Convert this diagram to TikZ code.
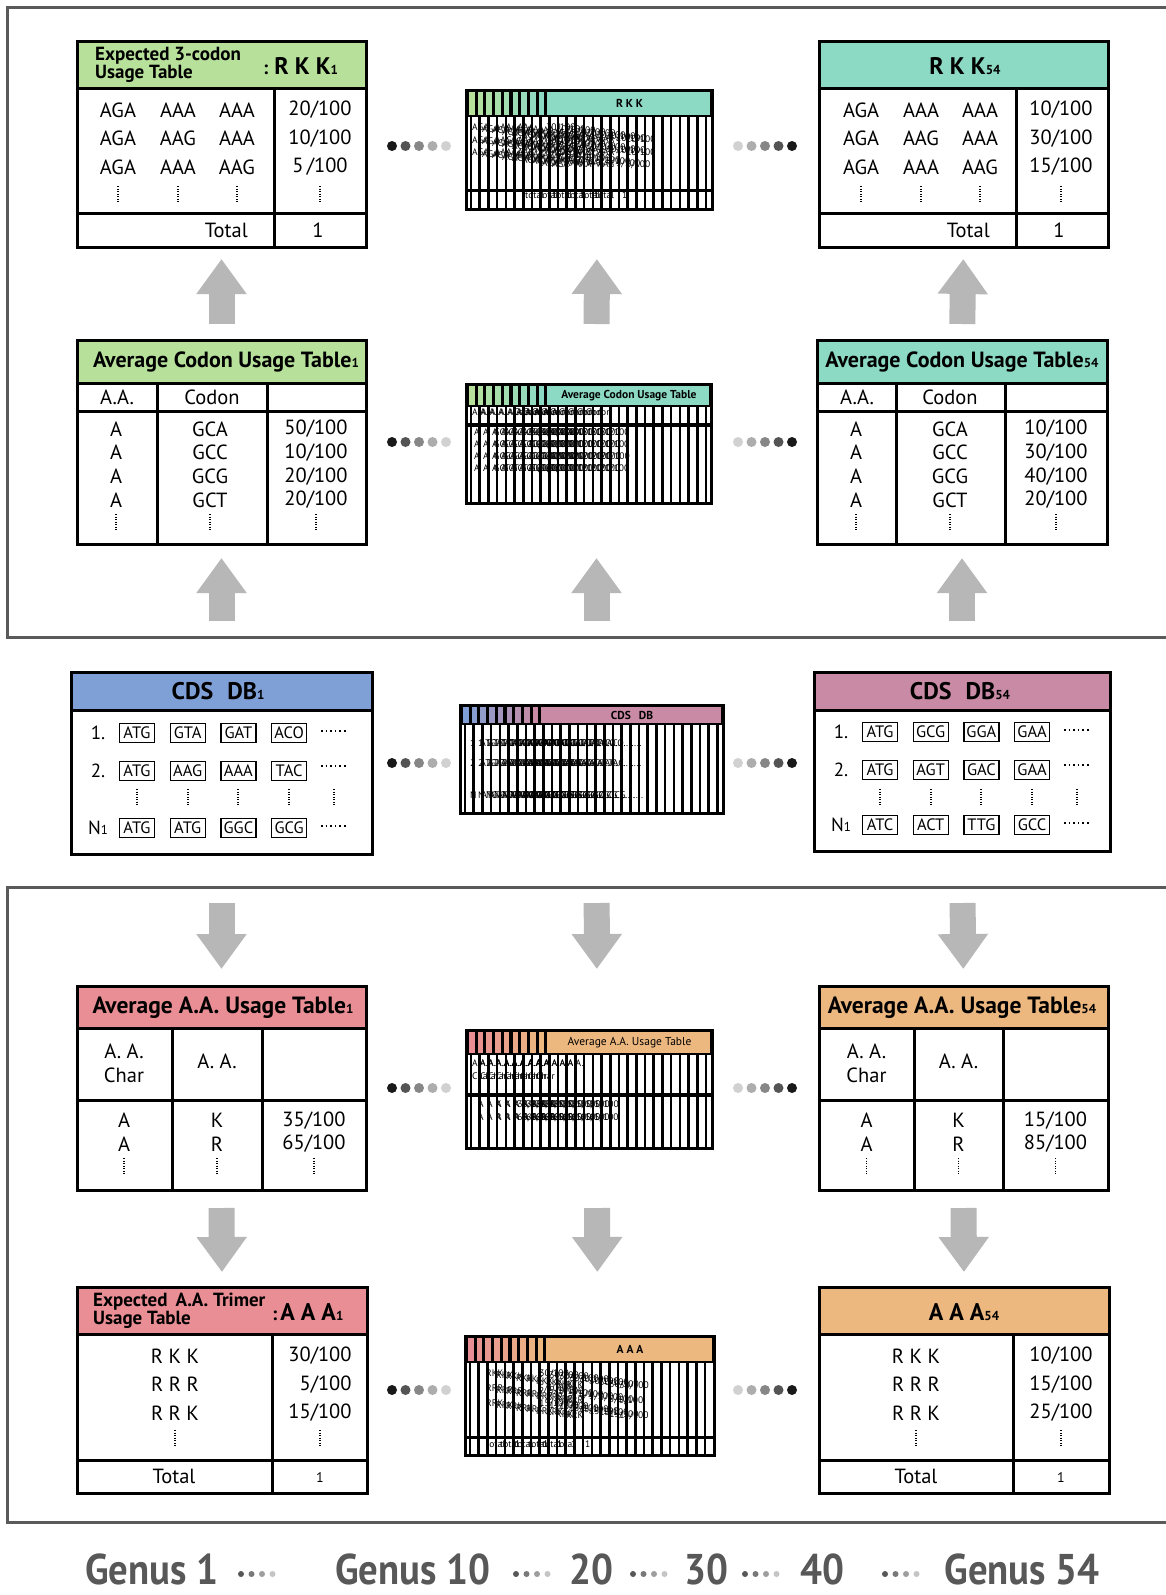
\documentclass[tikz,border=0pt]{standalone}
\usepackage{fontspec}
\setmainfont{PT Sans}
\newfontfamily\genusfont[FakeStretch=0.9]{PT Sans}
\usetikzlibrary{arrows.meta,calc}

\definecolor{cgreen}{RGB}{183,225,155}
\definecolor{cteal}{RGB}{140,217,196}
\definecolor{cblue}{RGB}{127,160,214}
\definecolor{cmauve}{RGB}{200,138,164}
\definecolor{cred}{RGB}{232,142,148}
\definecolor{corange}{RGB}{236,184,128}
\definecolor{arrowgray}{RGB}{183,183,183}
\definecolor{framegray}{RGB}{90,90,90}
\definecolor{genusgray}{RGB}{88,88,88}

\newcommand{\gsub}[1]{{\fontsize{13}{13}\selectfont #1}}

\begin{document}
\begin{tikzpicture}
        [x=1pt, y=-1pt,
        tab/.style={draw, line width=3pt, fill=white, anchor=north west, inner sep=0, outer sep=0},
        headbar/.style={draw, line width=3pt, anchor=north west, inner sep=0, outer sep=0},
        rule/.style={line width=3pt},
        frame/.style={draw=framegray, line width=3pt},
        cell/.style={inner sep=0, align=center, font=\fontsize{20.5}{28.5}\selectfont},
        cellb/.style={inner sep=0, align=center, font=\fontsize{20.5}{23.7}\selectfont},
        htxt/.style={inner sep=0, align=left, font=\bfseries\fontsize{19}{16.5}\selectfont},
        hbig/.style={inner sep=0, font=\bfseries\fontsize{19}{19}\selectfont},
        hmid/.style={inner sep=0, font=\bfseries\fontsize{22}{22}\selectfont},
        hmidb/.style={inner sep=0, font=\bfseries\fontsize{23.5}{23.5}\selectfont},
        hcds/.style={inner sep=0, font=\bfseries\fontsize{24}{24}\selectfont},
        lbl/.style={inner sep=0, font=\fontsize{19}{19}\selectfont},
        codon/.style={draw, line width=1.3pt, inner sep=0, minimum width=35pt, minimum height=19pt, font=\fontsize{16.5}{16.5}\selectfont},
        vdots/.style={line width=1.3pt, dash pattern=on 1.2pt off 1.3pt},
        hdots/.style={line width=1.6pt, dash pattern=on 1.6pt off 3pt},
        gtxt/.style={inner sep=0, anchor=north west, align=left, font=\fontsize{9.5}{12.5}\selectfont},
        ttxt/.style={inner sep=0, font=\fontsize{11.5}{11.5}\selectfont},
        bar/.style={line width=2.6pt},
        blockarrow/.style={line width=26pt, color=arrowgray, -{Triangle[width=48pt,length=35pt]}},
        genus/.style={anchor=base, inner sep=0, text=genusgray, font=\genusfont\bfseries\fontsize{43}{43}\selectfont}]

        \useasboundingbox (0,0) rectangle (1166,1595);
        \fill[white] (0,0) rectangle (1166,1595);

        % frames
        \draw[frame] (1172,8) -- (7,8) -- (7,637) -- (1172,637);
        \draw[frame] (1172,887) -- (7,887) -- (7,1522) -- (1172,1522);

        % expected 3-codon usage tables
        \node[tab, minimum width=289pt, minimum height=205pt] (expL) at (77,42) {};
        \node[headbar, fill=cgreen, minimum width=289pt, minimum height=46pt] (expLh) at (77,42) {};
        \node[htxt, anchor=west] (expLt) at (95,65) {Expected 3-codon\\Usage Table};
        \node[hbig, anchor=west] (expLk) at (263,66) {:\hspace{6pt}{\fontsize{24}{24}\selectfont R K K}\gsub{1}};
        \draw[rule] (274,88) -- (274,247);
        \draw[rule] (77,213) -- (366,213);
        \node[cell] (expLc1) at (118,138.5) {AGA\\AGA\\AGA};
        \node[cell] (expLc2) at (178,138.5) {AAA\\AAG\\AAA};
        \node[cell] (expLc3) at (237,138.5) {AAA\\AAA\\AAG};
        \node[cell] (expLc4) at (320,138.5) {20/100\\10/100\\5\,/100};
        \foreach \x in {118,178,237,320} \draw[vdots] (\x,186) -- (\x,203);
        \node[cell, anchor=east] (expLtot) at (248,230) {Total};
        \node[cell] (expLone) at (318,230) {1};

        \node[tab, minimum width=289pt, minimum height=205pt] (expR) at (819,42) {};
        \node[headbar, fill=cteal, minimum width=289pt, minimum height=46pt] (expRh) at (819,42) {};
        \node[hbig] (expRk) at (965,66) {{\fontsize{24}{24}\selectfont R K K}\gsub{54}};
        \draw[rule] (1016,88) -- (1016,247);
        \draw[rule] (819,213) -- (1108,213);
        \node[cell] (expRc1) at (861,138.5) {AGA\\AGA\\AGA};
        \node[cell] (expRc2) at (921,138.5) {AAA\\AAG\\AAA};
        \node[cell] (expRc3) at (980,138.5) {AAA\\AAA\\AAG};
        \node[cell] (expRc4) at (1061,138.5) {10/100\\30/100\\15/100};
        \foreach \x in {861,921,980,1061} \draw[vdots] (\x,186) -- (\x,203);
        \node[cell, anchor=east] (expRtot) at (990,230) {Total};
        \node[cell] (expRone) at (1059,230) {1};

        % average codon usage tables
        \node[tab, minimum width=289pt, minimum height=204pt] (avgL) at (77,340) {};
        \node[headbar, fill=cgreen, minimum width=289pt, minimum height=43pt] (avgLh) at (77,340) {};
        \node[hmid] (avgLt) at (226,362) {Average Codon Usage Table\gsub{1}};
        \draw[rule] (77,411) -- (366,411);
        \draw[rule] (157,383) -- (157,544);
        \draw[rule] (267,383) -- (267,544);
        \node[cell] (avgLs1) at (117,397) {A.A.};
        \node[cell] (avgLs2) at (212,397) {Codon};
        \node[cellb] (avgLc1) at (116,464.5) {A\\A\\A\\A};
        \node[cellb] (avgLc2) at (210,464.5) {GCA\\GCC\\GCG\\GCT};
        \node[cellb] (avgLc3) at (316,464.5) {50/100\\10/100\\20/100\\20/100};
        \foreach \x in {116,210,316} \draw[vdots] (\x,514) -- (\x,530);

        \node[tab, minimum width=290pt, minimum height=204pt] (avgR) at (817,340) {};
        \node[headbar, fill=cteal, minimum width=290pt, minimum height=43pt] (avgRh) at (817,340) {};
        \node[hmid] (avgRt) at (962,362) {Average Codon Usage Table\gsub{54}};
        \draw[rule] (817,411) -- (1107,411);
        \draw[rule] (896,383) -- (896,544);
        \draw[rule] (1005,383) -- (1005,544);
        \node[cell] (avgRs1) at (857,397) {A.A.};
        \node[cell] (avgRs2) at (950,397) {Codon};
        \node[cellb] (avgRc1) at (856,464.5) {A\\A\\A\\A};
        \node[cellb] (avgRc2) at (950,464.5) {GCA\\GCC\\GCG\\GCT};
        \node[cellb] (avgRc3) at (1056,464.5) {10/100\\30/100\\40/100\\20/100};
        \foreach \x in {856,950,1056} \draw[vdots] (\x,514) -- (\x,530);

        % CDS databases
        \node[tab, minimum width=301pt, minimum height=182pt] (cdsL) at (71,672) {};
        \node[headbar, fill=cblue, minimum width=301pt, minimum height=38pt] (cdsLh) at (71,672) {};
        \node[hcds] (cdsLt) at (218,691) {CDS\hspace{14pt}DB\gsub{1}};
        \node[lbl] (cdsLn1) at (98,733) {1.};
        \node[lbl] (cdsLn2) at (98,771) {2.};
        \node[lbl] (cdsLn3) at (98,828) {N\gsub{1}};
        \foreach \t [count=\i] in {ATG,GTA,GAT,ACO}
          \node[codon] (cdsLa\i) at ({137+50.7*(\i-1)},733) {\t};
        \foreach \t [count=\i] in {ATG,AAG,AAA,TAC}
          \node[codon] (cdsLb\i) at ({137+50.7*(\i-1)},771) {\t};
        \foreach \t [count=\i] in {ATG,ATG,GGC,GCG}
          \node[codon] (cdsLc\i) at ({137+50.7*(\i-1)},828) {\t};
        \draw[hdots] (321,731) -- (347,731);
        \draw[hdots] (321,766) -- (347,766);
        \draw[hdots] (321,826) -- (347,826);
        \foreach \x in {137,188,238,289,334} \draw[vdots] (\x,789) -- (\x,806);

        \node[tab, minimum width=296pt, minimum height=179pt] (cdsR) at (814,672) {};
        \node[headbar, fill=cmauve, minimum width=296pt, minimum height=38pt] (cdsRh) at (814,672) {};
        \node[hcds] (cdsRt) at (960,691) {CDS\hspace{14pt}DB\gsub{54}};
        \node[lbl] (cdsRn1) at (841,732) {1.};
        \node[lbl] (cdsRn2) at (841,770) {2.};
        \node[lbl] (cdsRn3) at (841,825) {N\gsub{1}};
        \foreach \t [count=\i] in {ATG,GCG,GGA,GAA}
          \node[codon] (cdsRa\i) at ({880+50.7*(\i-1)},732) {\t};
        \foreach \t [count=\i] in {ATG,AGT,GAC,GAA}
          \node[codon] (cdsRb\i) at ({880+50.7*(\i-1)},770) {\t};
        \foreach \t [count=\i] in {ATC,ACT,TTG,GCC}
          \node[codon] (cdsRc\i) at ({880+50.7*(\i-1)},825) {\t};
        \draw[hdots] (1064,730) -- (1090,730);
        \draw[hdots] (1064,765) -- (1090,765);
        \draw[hdots] (1064,823) -- (1090,823);
        \foreach \x in {880,931,981,1032,1077} \draw[vdots] (\x,789) -- (\x,806);

        % average A.A. usage tables
        \node[tab, minimum width=289pt, minimum height=204pt] (aaL) at (77,986) {};
        \node[headbar, fill=cred, minimum width=289pt, minimum height=42pt] (aaLh) at (77,986) {};
        \node[hmidb] (aaLt) at (223,1008) {Average A.A. Usage Table\gsub{1}};
        \draw[rule] (77,1100) -- (366,1100);
        \draw[rule] (172,1028) -- (172,1190);
        \draw[rule] (262,1028) -- (262,1190);
        \node[cellb] (aaLs1) at (124,1063) {A. A.\\Char};
        \node[cell] (aaLs2) at (217,1061) {A. A.};
        \node[cellb] (aaLc1) at (124,1132) {A\\A};
        \node[cellb] (aaLc2) at (217,1132) {K\\R};
        \node[cellb] (aaLc3) at (314,1132) {35/100\\65/100};
        \foreach \x in {124,217,314} \draw[vdots] (\x,1158) -- (\x,1175);

        \node[tab, minimum width=289pt, minimum height=204pt] (aaR) at (819,986) {};
        \node[headbar, fill=corange, minimum width=289pt, minimum height=42pt] (aaRh) at (819,986) {};
        \node[hmidb] (aaRt) at (962,1008) {Average A.A. Usage Table\gsub{54}};
        \draw[rule] (819,1100) -- (1108,1100);
        \draw[rule] (914,1028) -- (914,1190);
        \draw[rule] (1003,1028) -- (1003,1190);
        \node[cellb] (aaRs1) at (866.5,1063) {A. A.\\Char};
        \node[cell] (aaRs2) at (958.5,1061) {A. A.};
        \node[cellb] (aaRc1) at (866.5,1132) {A\\A};
        \node[cellb] (aaRc2) at (958.5,1132) {K\\R};
        \node[cellb] (aaRc3) at (1055.5,1132) {15/100\\85/100};
        \foreach \x in {866.5,958.5,1055.5} \draw[vdots] (\x,1158) -- (\x,1175);

        % expected A.A. trimer usage tables
        \node[tab, minimum width=290pt, minimum height=206pt] (triL) at (77,1287) {};
        \node[headbar, fill=cred, minimum width=290pt, minimum height=47pt] (triLh) at (77,1287) {};
        \node[htxt, anchor=west] (triLt) at (93,1311) {Expected\hspace{8pt}A.A. Trimer\\Usage Table};
        \node[hbig, anchor=west] (triLk) at (272,1312) {:\hspace{3pt}{\fontsize{24}{24}\selectfont A A A}\gsub{1}};
        \draw[rule] (272,1334) -- (272,1493);
        \draw[rule] (77,1460) -- (367,1460);
        \node[cell] (triLc1) at (175,1384.5) {R K K\\R R R\\R R K};
        \node[cell, align=right] (triLc2) at (320,1384.5) {30/100\\5/100\\15/100};
        \foreach \x in {175,320} \draw[vdots] (\x,1430) -- (\x,1446);
        \node[cell] (triLtot) at (174,1476) {Total};
        \node[lbl, font=\fontsize{14}{14}\selectfont] (triLone) at (320,1477) {1};

        \node[tab, minimum width=290pt, minimum height=206pt] (triR) at (819,1287) {};
        \node[headbar, fill=corange, minimum width=290pt, minimum height=47pt] (triRh) at (819,1287) {};
        \node[hbig] (triRk) at (964,1312) {{\fontsize{24}{24}\selectfont A A A}\gsub{54}};
        \draw[rule] (1013,1334) -- (1013,1493);
        \draw[rule] (819,1460) -- (1109,1460);
        \node[cell] (triRc1) at (916,1384.5) {R K K\\R R R\\R R K};
        \node[cell, align=right] (triRc2) at (1061,1384.5) {10/100\\15/100\\25/100};
        \foreach \x in {916,1061} \draw[vdots] (\x,1430) -- (\x,1446);
        \node[cell] (triRtot) at (916,1476) {Total};
        \node[lbl, font=\fontsize{14}{14}\selectfont] (triRone) at (1061,1477) {1};

        % stacked thumbnails in the middle
        \foreach \nm/\xa/\ya/\xb/\yb in {RKK/466/90/712/209, Cod/466/384/711/503, CDS/460/705/723/813, AAu/466/1030/712/1148, AAA/465/1336/714/1455}
          \node[tab, draw=none, minimum width={\xb-\xa}, minimum height={\yb-\ya}] (th\nm) at (\xa,\ya) {};

        \begin{scope}
          \clip (466,90) rectangle (712,209);
          \foreach \s in {0,...,8}
            \node[gtxt] (gRKK\s) at (472+10*\s, 124+1.5*\s) {AGA\hspace{6pt}AAA\hspace{6pt}AAA\hspace{12pt}20/100\\AGA\hspace{6pt}AAG\hspace{6pt}AAA\hspace{12pt}10/100\\AGA\hspace{6pt}AAA\hspace{6pt}AAG\hspace{12pt}5/100};
          \foreach \s in {0,...,5}
            \node[gtxt] (gRKKt\s) at (525+14*\s, 192) {total\hspace{8pt}1};
        \end{scope}
        \begin{scope}
          \clip (466,384) rectangle (711,503);
          \foreach \s in {0,...,8}
            \node[gtxt] (gCodh\s) at (472+9*\s, 409) {A.A.\hspace{26pt}Codon};
          \foreach \s in {0,...,8}
            \node[gtxt, font=\fontsize{9.5}{11.7}\selectfont] (gCod\s) at (474+9*\s, 429) {A\hspace{14pt}GCA\hspace{18pt}50/100\\A\hspace{14pt}GCC\hspace{18pt}10/100\\A\hspace{14pt}GCG\hspace{18pt}20/100\\A\hspace{14pt}GCT\hspace{18pt}20/100};
        \end{scope}
        \begin{scope}
          \clip (460,705) rectangle (723,813);
          \foreach \s in {0,...,8}
            \node[gtxt, font=\fontsize{9.5}{20}\selectfont] (gCDS\s) at (470+8*\s, 740) {1\hspace{5pt}ATG\hspace{5pt}GTA\hspace{5pt}GAT\hspace{5pt}ACO\hspace{5pt}.....\\2\hspace{5pt}ATG\hspace{5pt}AAG\hspace{5pt}AAA\hspace{5pt}TAC\hspace{5pt}.....\\[12pt]N\hspace{5pt}ATG\hspace{5pt}ATG\hspace{5pt}GGC\hspace{5pt}GCG\hspace{5pt}.....};
        \end{scope}
        \begin{scope}
          \clip (466,1030) rectangle (712,1148);
          \foreach \s in {0,...,8}
            \node[gtxt] (gAAuh\s) at (472+8*\s, 1060) {A.A.\hspace{16pt}A.A.\\Char};
          \foreach \s in {0,...,8}
            \node[gtxt] (gAAu\s) at (478+9*\s, 1101) {A\hspace{12pt}K\hspace{16pt}35/100\\A\hspace{12pt}R\hspace{16pt}65/100};
        \end{scope}
        \begin{scope}
          \clip (465,1336) rectangle (714,1455);
          \foreach \s in {0,...,8}
            \node[gtxt, font=\fontsize{9.5}{15}\selectfont] (gAAA\s) at (486+10*\s, 1370+1.5*\s) {RKK\hspace{36pt}30/100\\RRR\hspace{36pt}5/100\\RRK\hspace{36pt}15/100};
          \foreach \s in {0,...,5}
            \node[gtxt] (gAAAt\s) at (486+14*\s, 1441) {total\hspace{10pt}1};
        \end{scope}

        \foreach \nm/\xa/\ya/\xb/\yb/\hh/\ca/\cb/\ttl in {
          RKK/466/90/712/209/27/cgreen/cteal/{\bfseries R K K},
          Cod/466/384/711/503/23/cgreen/cteal/{\bfseries Average Codon Usage Table},
          CDS/460/705/723/813/20/cblue/cmauve/{\bfseries CDS\hspace{8pt}DB},
          AAu/466/1030/712/1148/25/cred/corange/{Average A.A. Usage Table},
          AAA/465/1336/714/1455/27/cred/corange/{\bfseries A A A}}
        {
          \pgfmathtruncatemacro\nb{(\xb-\xa-8)/8.7}
          \foreach \k in {0,...,\nb} \draw[bar] ({\xa+5+8.7*\k},\ya) -- ({\xa+5+8.7*\k},\yb);
          \fill (\xa,\ya) rectangle (\xb,{\ya+\hh});
          \foreach \k in {0,...,8} {
            \pgfmathtruncatemacro\pc{100-12.5*\k}
            \fill[\ca!\pc!\cb] ({\xa+3+8.7*\k},{\ya+2}) rectangle ++(5.6,{\hh-4});
          }
          \fill[\cb] ({\xa+81},{\ya+2}) rectangle ({\xb-2},{\ya+\hh-2});
          \node[ttxt] (tt\nm) at ({(\xa+81+\xb)/2},{\ya+\hh/2}) {\ttl};
          \draw[line width=3pt] (th\nm.north west) rectangle (th\nm.south east);
        }
        \draw[rule] (466,190) -- (712,190);
        \draw[line width=4pt] (466,425) -- (711,425);
        \draw[line width=4pt] (466,1095) -- (712,1095);
        \draw[rule] (465,1437) -- (714,1437);

        % fading dots between the tables
        \foreach \yy in {146,442,763,1088,1390}
          \foreach \k/\c in {0/black!90,1/black!67,2/black!47,3/black!32,4/black!18} {
            \fill[\c] ({392+13.5*\k},\yy) circle (5pt);
            \fill[\c] ({792-13.5*\k},\yy) circle (5pt);
          }

        % block arrows
        \draw[blockarrow, shorten <=16pt, shorten >=12pt] (avgL.north) -- (expL.south);
        \draw[blockarrow, shorten <=60pt, shorten >=50pt] ([xshift=8pt]thCod.north) -- ([xshift=8pt]thRKK.south);
        \draw[blockarrow, shorten <=16pt, shorten >=12pt] (avgR.north) -- (expR.south);

        \draw[blockarrow, shorten <=51pt, shorten >=14pt] (cdsL.north) -- (avgL.south);
        \draw[blockarrow, shorten <=84pt, shorten >=55pt] ([xshift=5pt]thCDS.north) -- ([xshift=8pt]thCod.south);
        \draw[blockarrow, shorten <=51pt, shorten >=14pt] (cdsR.north) -- (avgR.south);

        \draw[blockarrow, shorten <=49pt, shorten >=17pt] (cdsL.south) -- (aaL.north);
        \draw[blockarrow, shorten <=90pt, shorten >=61pt] ([xshift=5pt]thCDS.south) -- ([xshift=8pt]thAAu.north);
        \draw[blockarrow, shorten <=52pt, shorten >=17pt] (cdsR.south) -- (aaR.north);

        \draw[blockarrow, shorten <=18pt, shorten >=15pt] (aaL.south) -- (triL.north);
        \draw[blockarrow, shorten <=60pt, shorten >=64pt] ([xshift=8pt]thAAu.south) -- ([xshift=8pt]thAAA.north);
        \draw[blockarrow, shorten <=18pt, shorten >=15pt] (aaR.south) -- (triR.north);

        % genus scale
        \node[genus] (g1) at (152,1584) {Genus 1};
        \node[genus] (g10) at (413,1584) {Genus 10};
        \node[genus] (g20) at (591,1584) {20};
        \node[genus] (g30) at (706,1584) {30};
        \node[genus] (g40) at (822,1584) {40};
        \node[genus] (g54) at (1022,1584) {Genus 54};
        \foreach \xs in {241,516,633,745,885}
          \foreach \k/\c in {0/genusgray,1/genusgray!80,2/genusgray!58,3/genusgray!35}
            \fill[\c] ({\xs+10.5*\k},1574) circle (3pt);

      \end{tikzpicture}
\end{document}
